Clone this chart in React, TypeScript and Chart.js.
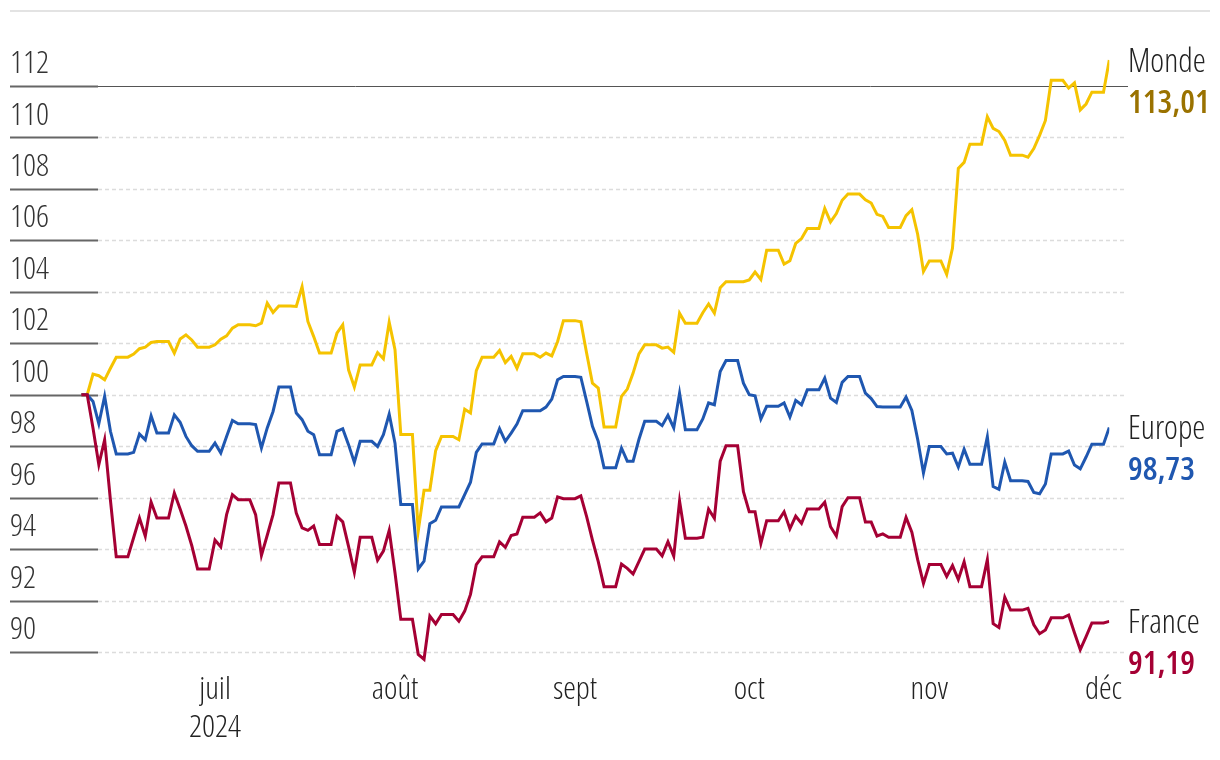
import React, { useEffect, useRef } from "react";
import { Chart, registerables } from "chart.js";

Chart.register(...registerables);

const FAMILY = "'Open Sans', 'DejaVu Sans Condensed', sans-serif";
const STRETCH = "condensed";

// Base date (index = 100) and trading-day closes (Mon–Fri), 7 Jun 2024 -> 2 Dec 2024
const BASE_DATE = [2024, 5, 7];
const LAST_DAY = 178; // 2 Dec 2024, in days after the base date

const seriesNames = ["Monde", "Europe", "France"];
const lastValueLabels = ["113,01", "98,73", "91,19"];

const monde = [
  100,
  100.8, 100.74, 100.58, 101.03, 101.46,
  101.58, 101.79, 101.85, 102.03, 102.07,
  101.62, 102.17, 102.33, 102.13, 101.85,
  101.94, 102.16, 102.29, 102.59, 102.72,
  102.68, 102.78, 103.56, 103.2, 103.45,
  103.43, 104.2, 102.85, 102.26, 101.62,
  102.39, 102.72, 100.97, 100.3, 101.16,
  101.64, 101.4, 102.82, 101.75, 98.45,
  94.7, 96.29, 96.29, 97.83, 98.38,
  98.25, 99.44, 99.29, 100.94, 101.46,
  101.72, 101.25, 101.49, 101.03, 101.59,
  101.46, 101.62, 101.51, 102.07, 102.88,
  102.84, 101.61, 100.45, 100.26, 98.75,
  99.94, 100.22, 100.84, 101.59, 101.94,
  101.81, 101.85, 101.65, 103.17, 102.78,
  103.19, 103.53, 103.17, 104.16, 104.39,
  104.39, 104.46, 104.77, 104.48, 105.62,
  105.08, 105.21, 105.88, 106.07, 106.46,
  107.24, 106.72, 107.04, 107.56, 107.8,
  107.58, 107.45, 107.01, 106.93, 106.5,
  106.96, 107.19, 106.24, 104.79, 105.2,
  104.68, 105.7, 108.8, 109.03, 109.74,
  110.8, 110.35, 110.23, 109.88, 109.31,
  109.23, 109.57, 110.08, 110.66, 112.22,
  111.92, 112.12, 111.07, 111.3, 111.76,
  113.01,
];

const europe = [
  100,
  99.74, 98.87, 99.94, 98.58, 97.7,
  97.76, 98.47, 98.25, 99.18, 98.51,
  99.22, 98.93, 98.38, 98.02, 97.8,
  98.12, 97.74, 98.38, 99.0, 98.87,
  98.84, 97.93, 98.71, 99.35, 100.3,
  99.29, 99.03, 98.58, 98.45, 97.67,
  98.58, 98.68, 98.06, 97.37, 98.19,
  97.99, 98.45, 99.25, 98.12, 95.73,
  93.23, 93.53, 94.99, 95.12, 95.64,
  95.64, 96.12, 96.6, 97.76, 98.09,
  98.68, 98.19, 98.51, 98.86, 99.38,
  99.38, 99.52, 99.83, 100.58, 100.71,
  100.68, 99.74, 98.77, 98.19, 97.16,
  97.93, 97.42, 97.42, 98.26, 98.97,
  98.8, 99.2, 98.71, 100.06, 98.64,
  99.06, 99.68, 99.61, 100.9, 101.33,
  100.45, 100.0, 99.96, 99.06, 99.55,
  99.68, 99.13, 99.78, 99.61, 100.19,
  100.65, 99.87, 99.7, 100.48, 100.71,
  100.06, 99.85, 99.54, 99.52, 99.52,
  99.91, 99.39, 98.27, 96.96, 97.99,
  97.7, 97.73, 97.19, 97.88, 97.3,
  98.37, 96.43, 96.32, 97.38, 96.66,
  96.63, 96.2, 96.15, 96.53, 97.7,
  97.81, 97.27, 97.12, 97.58, 98.08,
  98.73,
];

const france = [
  100,
  98.7, 97.28, 98.25, 95.9, 93.7,
  94.45, 95.21, 94.5, 95.83, 95.21,
  96.18, 95.56, 94.9, 94.14, 93.23,
  94.35, 94.09, 95.34, 96.12, 95.92,
  95.34, 93.76, 94.54, 95.34, 96.57,
  95.4, 94.83, 94.73, 94.9, 94.18,
  95.28, 95.06, 94.11, 93.1, 94.46,
  93.57, 93.92, 94.73, 93.08, 91.27,
  89.91, 89.72, 91.4, 91.1, 91.46,
  91.2, 91.59, 92.24, 93.4, 93.7,
  94.28, 94.07, 94.53, 94.59, 95.24,
  95.41, 95.06, 95.21, 96.03, 95.96,
  96.07, 95.26, 94.35, 93.51, 92.54,
  93.42, 93.25, 93.03, 93.51, 94.0,
  93.74, 94.29, 93.73, 95.87, 94.42,
  94.46, 95.55, 95.2, 97.42, 98.02,
  96.23, 95.45, 95.45, 94.22, 95.1,
  95.45, 94.79, 95.28, 95.0, 95.56,
  95.82, 94.87, 94.51, 95.65, 96.0,
  95.05, 95.05, 94.51, 94.59, 94.46,
  95.23, 94.66, 93.59, 92.67, 93.4,
  92.94, 93.36, 92.82, 93.51, 92.54,
  93.59, 91.1, 90.95, 92.13, 91.63,
  91.7, 91.06, 90.71, 90.86, 91.33,
  91.44, 90.75, 90.09, 90.6, 91.13,
  91.19,
];

const yTickValues = [90, 92, 94, 96, 98, 100, 102, 104, 106, 108, 110, 112];
const monthTickDates = [
  [2024, 6, 1],
  [2024, 7, 1],
  [2024, 8, 1],
  [2024, 9, 1],
  [2024, 10, 1],
  [2024, 11, 1],
];
const monthTickLabels: (string | string[])[] = [["juil", "2024"], "août", "sept", "oct", "nov", "déc"];

const lineColors = ["#f5c300", "#1f57b0", "#a50034"];
const valueColors = ["#9a7200", "#1f57b0", "#a50034"];

const DAY_MS = 86400000;
const baseTime = Date.UTC(BASE_DATE[0], BASE_DATE[1], BASE_DATE[2]);
const dayOffset = (d: number[]) => Math.round((Date.UTC(d[0], d[1], d[2]) - baseTime) / DAY_MS);
const monthTickDays = monthTickDates.map(dayOffset);

// calendar-day points; weekends keep the last close
function toDaily(trading: number[]) {
  const pts: { x: number; y: number }[] = [];
  let k = -1;
  for (let d = 0; d <= LAST_DAY; d++) {
    const wd = new Date(baseTime + d * DAY_MS).getUTCDay();
    if (wd !== 0 && wd !== 6) k++;
    if (d >= 1) pts.push({ x: d, y: trading[Math.min(k, trading.length - 1)] });
  }
  return pts;
}

const allSeries = [monde, europe, france];

const decorPlugin = {
  id: "decor",
  beforeDatasetsDraw(chart: any) {
    const { ctx } = chart;
    const ys = chart.scales.y;
    ctx.save();
    ctx.strokeStyle = "#e3e3e3";
    ctx.lineWidth = 2;
    ctx.beginPath();
    ctx.moveTo(10, 11);
    ctx.lineTo(1210, 11);
    ctx.stroke();
    for (const v of yTickValues) {
      const y = Math.round(ys.getPixelForValue(v)) + 0.5;
      if (v === 112) {
        ctx.setLineDash([]);
        ctx.strokeStyle = "#555";
        ctx.lineWidth = 1;
        ctx.beginPath();
        ctx.moveTo(98, y);
        ctx.lineTo(1128, y);
        ctx.stroke();
      } else {
        ctx.setLineDash([4, 3]);
        ctx.strokeStyle = "#dcdcdc";
        ctx.lineWidth = 1.5;
        ctx.beginPath();
        ctx.moveTo(98, y);
        ctx.lineTo(1126, y);
        ctx.stroke();
      }
      ctx.setLineDash([]);
      ctx.strokeStyle = "#666";
      ctx.lineWidth = 2;
      ctx.beginPath();
      ctx.moveTo(10, y);
      ctx.lineTo(98, y);
      ctx.stroke();
    }
    ctx.restore();
  },
  afterDatasetsDraw(chart: any) {
    const { ctx } = chart;
    const ys = chart.scales.y;
    ctx.save();
    ctx.textAlign = "left";
    ctx.textBaseline = "alphabetic";
    allSeries.forEach((s, i) => {
      const y = ys.getPixelForValue(s[s.length - 1]);
      ctx.font = `${STRETCH} 300 33px ${FAMILY}`;
      ctx.fillStyle = "#222";
      ctx.fillText(seriesNames[i], 1128, y + 11.5);
      ctx.font = `${STRETCH} 600 33px ${FAMILY}`;
      ctx.fillStyle = valueColors[i];
      ctx.fillText(lastValueLabels[i], 1128, y + 53);
    });
    ctx.restore();
  },
};

export default function App() {
  const ref = useRef<HTMLCanvasElement>(null);
  useEffect(() => {
    document.body.style.margin = "0";
    const canvas = ref.current!;
    const chart = new Chart(canvas, {
      type: "line",
      data: {
        datasets: allSeries.map((s, i) => ({
          label: seriesNames[i],
          data: toDaily(s),
          borderColor: lineColors[i],
          backgroundColor: lineColors[i],
          borderWidth: 3,
          pointRadius: 0,
          tension: 0,
          order: 3 - i,
        })),
      },
      options: {
        animation: false,
        responsive: false,
        devicePixelRatio: 1,
        layout: { padding: { left: 10, right: 110.7, top: 47.4, bottom: 0 } },
        plugins: { legend: { display: false }, tooltip: { enabled: false } },
        scales: {
          x: {
            type: "linear",
            min: 0,
            max: LAST_DAY,
            grid: { display: false, drawTicks: false },
            border: { display: false },
            afterFit(scale: any) {
              scale.height = 95.1;
            },
            afterBuildTicks(scale: any) {
              scale.ticks = monthTickDays.map((v) => ({ value: v }));
            },
            ticks: {
              autoSkip: false,
              maxRotation: 0,
              padding: 6,
              color: "#222",
              font: { family: FAMILY, weight: `300 ${STRETCH}`, size: 32, lineHeight: 1.19 },
              callback: (_v: any, i: number) => monthTickLabels[i],
            },
          },
          y: {
            type: "linear",
            min: 89.5,
            max: 113.5,
            grid: { display: false, drawTicks: false },
            border: { display: false },
            afterFit(scale: any) {
              scale.width = 65.6;
            },
            afterBuildTicks(scale: any) {
              scale.ticks = yTickValues.map((v) => ({ value: v }));
            },
            ticks: {
              crossAlign: "far",
              labelOffset: -22,
              padding: 0,
              color: "#333",
              font: { family: FAMILY, weight: `300 ${STRETCH}`, size: 32 },
              callback: (v: any) => String(v),
            },
          },
        },
      },
      plugins: [decorPlugin],
    } as any);
    return () => chart.destroy();
  }, []);
  return (
    <div style={{ width: 1220, height: 760 }}>
      <canvas ref={ref} width={1220} height={760} style={{ display: "block" }} />
    </div>
  );
}
